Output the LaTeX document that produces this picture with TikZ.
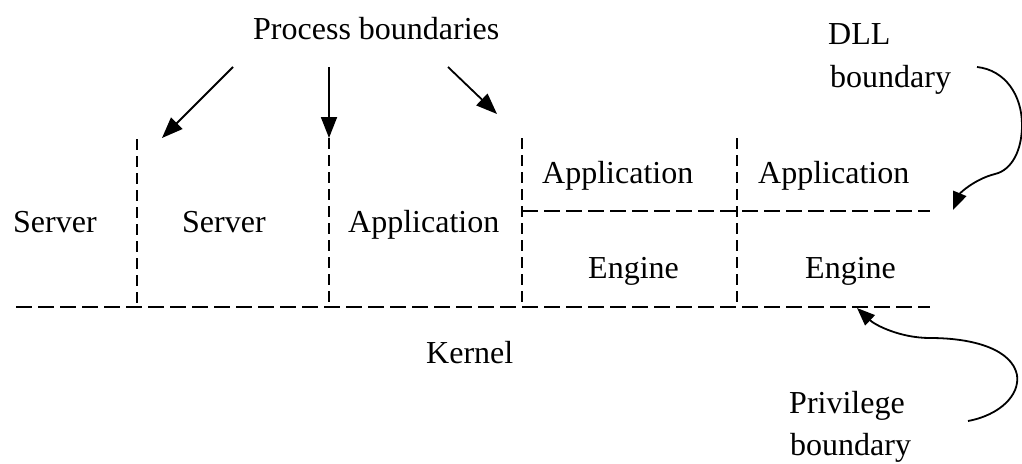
\documentclass[tikz,border=0pt]{standalone}
\usepackage{fontspec}
\setmainfont{Liberation Serif}
\usetikzlibrary{arrows.meta}
\begin{document}
\begin{tikzpicture}[x=1pt,y=-1pt,
  lbl/.style={inner sep=0pt,anchor=base west,font=\fontsize{32}{42}\selectfont,align=left},
  hdash/.style={line width=2pt,dash pattern=on 16pt off 6pt},
  vdash/.style={line width=2pt,dash pattern=on 11pt off 6pt},
  bigarrow/.style={line width=1.8pt,-{Triangle[length=21pt,width=16pt]}},
  curvearrow/.style={line width=1.8pt,-{Triangle[length=18pt,width=14pt]}}]
\useasboundingbox (0,0) rectangle (1022,463);
% texts
\node[lbl] (pb) at (253,39) {Process boundaries};
\node[lbl] (dll) at (828,44) {DLL};
\node[lbl] (dllb) at (830,87) {boundary};
\node[lbl] (s1) at (13,232) {Server};
\node[lbl] (s2) at (182,232) {Server};
\node[lbl] (a1) at (348,232) {Application};
\node[lbl] (a2) at (542,183) {Application};
\node[lbl] (a3) at (758,183) {Application};
\node[lbl] (e1) at (588,278) {Engine};
\node[lbl] (e2) at (805,278) {Engine};
\node[lbl] (k) at (426,363) {Kernel};
\node[lbl] (pr) at (789,413) {Privilege};
\node[lbl] (prb) at (790,455) {boundary};
% boundaries
\draw[hdash] (16,307) -- (930,307);
\draw[hdash] (522,211) -- (930,211);
\draw[vdash] (137,139) -- (137,307);
\draw[vdash] (329,138) -- (329,307);
\draw[vdash] (522,138) -- (522,307);
\draw[vdash] (737,138) -- (737,307);
% arrow end points
\coordinate (p1s) at (233,67);
\coordinate (p1e) at (162,138);
\coordinate (p2s) at (329,67);
\coordinate (p2e) at (329,138);
\coordinate (p3s) at (448,67);
\coordinate (p3e) at (497,114);
\coordinate (ds) at (977,67);
\coordinate (de) at (953,210);
\coordinate (ps) at (968,421);
\coordinate (pe) at (857,308);
\draw[bigarrow] (p1s) -- (p1e);
\draw[bigarrow] (p2s) -- (p2e);
\draw[bigarrow] (p3s) -- (p3e);
\draw[curvearrow] (ds) .. controls (1005,70) and (1022,95) .. (1022,125)
  .. controls (1022,150) and (1012,170) .. (995,174)
  .. controls (975,179) and (960,193) .. (de);
\draw[curvearrow] (ps) .. controls (1000,415) and (1020,395) .. (1017,375)
  .. controls (1012,350) and (975,338) .. (930,338)
  .. controls (900,338) and (875,325) .. (pe);
\end{tikzpicture}
\end{document}
